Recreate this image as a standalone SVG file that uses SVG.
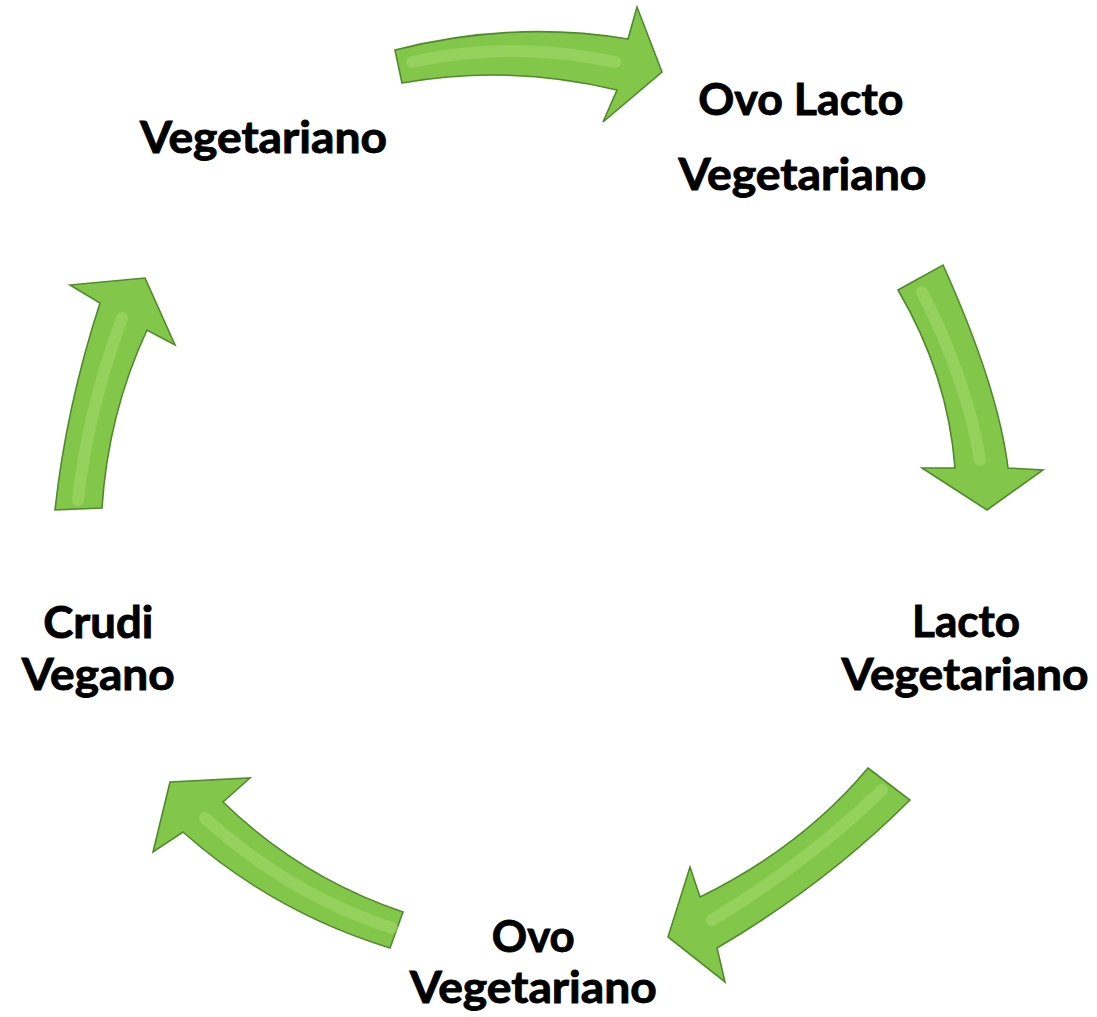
<svg xmlns="http://www.w3.org/2000/svg" width="1097" height="1017" viewBox="0 0 1097 1017">
<style>
.lbl{font-family:Lato,"Open Sans","Liberation Sans",sans-serif;font-weight:bold;font-size:44px;fill:#000;stroke:#000;stroke-width:0.9;text-anchor:middle}
.arrow{fill:#83c74a;stroke:#4f8a2c;stroke-width:1.6;stroke-linejoin:miter}
.hl{fill:none;stroke:#a3da6e;stroke-width:12;stroke-linecap:round;opacity:0.55}
</style>
<rect width="1097" height="1017" fill="#fff"/>
<g id="connectors">
  <g id="arrow-top">
    <path class="arrow" d="M395,50 Q512,20 628,39 L637,7 L662,72 L603,122 L617,90 Q510,64 402,83 Z"/>
    <path class="hl" d="M412,62 Q512,40 615,62"/>
  </g>
  <g id="arrow-right">
    <path class="arrow" d="M898,290 L943,265 Q998,387 1008,468 L1043,470 L987,510 L922,468 L955,468 Q948,375 898,290 Z"/>
    <path class="hl" d="M922,292 Q967,380 980,460"/>
  </g>
  <g id="arrow-bottom-right">
    <path class="arrow" d="M868,768 L910,800 Q826,884 717,948 L725,982 L668,937 L690,867 L700,897 Q802,847 868,768 Z"/>
    <path class="hl" d="M882,790 Q808,862 712,920"/>
  </g>
  <g id="arrow-bottom-left">
    <path class="arrow" d="M403,912 Q300,877 223,802 L250,778 L170,782 L153,852 L183,832 Q273,912 390,948 Z"/>
    <path class="hl" d="M392,928 Q290,895 205,818"/>
  </g>
  <g id="arrow-left">
    <path class="arrow" d="M55,510 Q66,408 100,303 L70,285 L145,278 L175,345 L147,330 Q108,414 102,508 Z"/>
    <path class="hl" d="M78,500 Q88,410 122,318"/>
  </g>
</g>
<g id="node-vegetariano"><text class="lbl" x="263.5" y="153" textLength="247" lengthAdjust="spacingAndGlyphs">Vegetariano</text></g>
<g id="node-ovo-lacto-vegetariano">
  <text class="lbl" x="800.8" y="115" textLength="205" lengthAdjust="spacingAndGlyphs">Ovo Lacto</text>
  <text class="lbl" x="802.5" y="190" textLength="248" lengthAdjust="spacingAndGlyphs">Vegetariano</text>
</g>
<g id="node-lacto-vegetariano">
  <text class="lbl" x="966" y="637" textLength="108" lengthAdjust="spacingAndGlyphs">Lacto</text>
  <text class="lbl" x="965" y="690" textLength="247" lengthAdjust="spacingAndGlyphs">Vegetariano</text>
</g>
<g id="node-ovo-vegetariano">
  <text class="lbl" x="533.3" y="952" textLength="83" lengthAdjust="spacingAndGlyphs">Ovo</text>
  <text class="lbl" x="533.3" y="1003" textLength="247" lengthAdjust="spacingAndGlyphs">Vegetariano</text>
</g>
<g id="node-crudi-vegano">
  <text class="lbl" x="98.3" y="638" textLength="110" lengthAdjust="spacingAndGlyphs">Crudi</text>
  <text class="lbl" x="98.3" y="690" textLength="153" lengthAdjust="spacingAndGlyphs">Vegano</text>
</g>
</svg>
